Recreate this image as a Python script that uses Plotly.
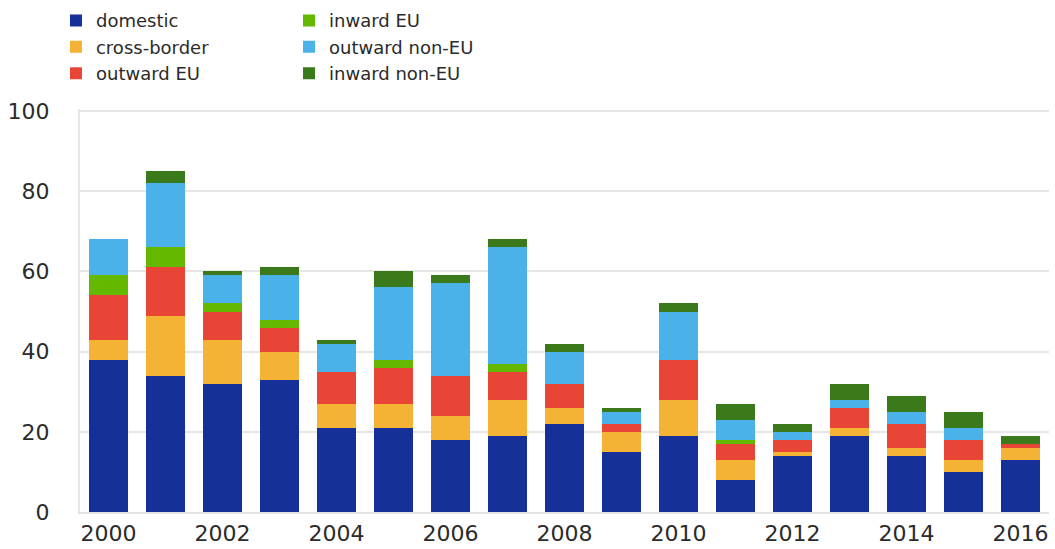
import plotly.graph_objects as go

# years on the x axis
years = list(range(2000, 2017))

# stacked components, bottom to top
domestic = [38, 34, 32, 33, 21, 21, 18, 19, 22, 15, 19, 8, 14, 19, 14, 10, 13]
cross_border = [5, 15, 11, 7, 6, 6, 6, 9, 4, 5, 9, 5, 1, 2, 2, 3, 3]
outward_eu = [11, 12, 7, 6, 8, 9, 10, 7, 6, 2, 10, 4, 3, 5, 6, 5, 1]
inward_eu = [5, 5, 2, 2, 0, 2, 0, 2, 0, 0, 0, 1, 0, 0, 0, 0, 0]
outward_non_eu = [9, 16, 7, 11, 7, 18, 23, 29, 8, 3, 12, 5, 2, 2, 3, 3, 0]
inward_non_eu = [0, 3, 1, 2, 1, 4, 2, 2, 2, 1, 2, 4, 2, 4, 4, 4, 2]

x_ticks = list(range(2000, 2017, 2))

series = [
    ("domestic", domestic, "#16309a", "legend"),
    ("cross-border", cross_border, "#f5b335", "legend"),
    ("outward EU", outward_eu, "#e84536", "legend"),
    ("inward EU", inward_eu, "#65b800", "legend2"),
    ("outward non-EU", outward_non_eu, "#4ab2e9", "legend2"),
    ("inward non-EU", inward_non_eu, "#3b7a1b", "legend2"),
]

fig = go.Figure()
for name, vals, color, leg in series:
    fig.add_trace(go.Bar(
        x=years, y=vals, name=name,
        marker=dict(color=color, line=dict(width=0)),
        legend=leg,
    ))

font = dict(family="DejaVu Sans, Verdana, sans-serif", color="#2b2b2b")

fig.update_layout(
    barmode="stack",
    bargap=0.33,
    width=1055, height=549,
    margin=dict(l=80, r=6, t=109, b=37, autoexpand=False),
    paper_bgcolor="white",
    plot_bgcolor="white",
    font=dict(**font, size=18),
    legend=dict(
        x=-0.0248, y=1.265, xanchor="left", yanchor="top",
        orientation="v", traceorder="normal",
        font=dict(**font, size=18), bgcolor="rgba(0,0,0,0)",
    ),
    legend2=dict(
        x=0.2157, y=1.265, xanchor="left", yanchor="top",
        orientation="v", traceorder="normal",
        font=dict(**font, size=18), bgcolor="rgba(0,0,0,0)",
    ),
    xaxis=dict(
        range=[1999.5, 2016.5],
        tickvals=x_ticks,
        ticktext=[str(t) for t in x_ticks],
        showgrid=False,
        showline=True, linecolor="#e3e3e3", linewidth=2,
        tickfont=dict(**font, size=22),
        ticks="",
        ticklabelstandoff=1,
        automargin=False,
    ),
    yaxis=dict(
        range=[0, 100.5],
        tickvals=[0, 20, 40, 60, 80, 100],
        showgrid=True, gridcolor="#e6e6e6", gridwidth=2,
        showline=True, linecolor="#e6e6e6", linewidth=2,
        zeroline=False,
        tickfont=dict(**font, size=22),
        ticks="",
        ticklabelstandoff=24,
        automargin=False,
    ),
)

# drop the page's default body margin so the figure sits at the window's corner
fig.write_html(
    "out.html",
    config={"displayModeBar": False},
    post_script="document.body.style.margin='0';",
)
